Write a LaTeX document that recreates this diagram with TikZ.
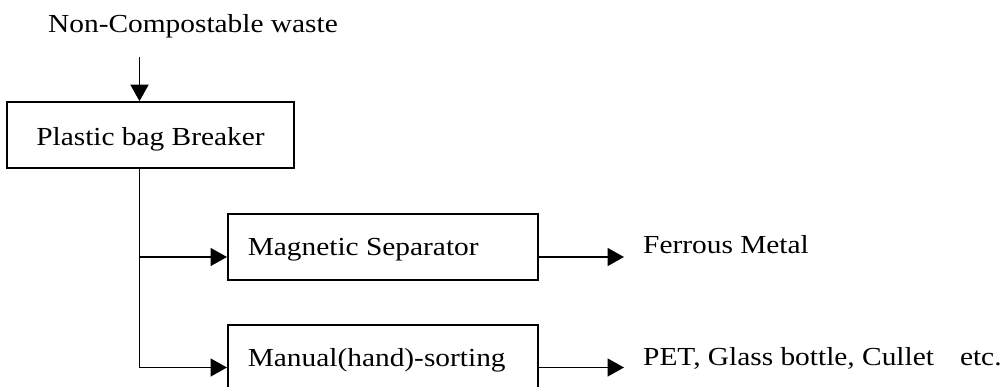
\documentclass[tikz,border=0pt]{standalone}
\usepackage{fontspec}
\setmainfont{Liberation Serif}[FakeStretch=1.13]
\usetikzlibrary{arrows.meta}
\begin{document}
\begin{tikzpicture}[x=1pt,y=-1pt,
  every node/.style={font=\fontsize{26}{30}\selectfont},
  line/.style={line width=1.6pt},
  arr/.style={line, -{Triangle[length=16.5pt,width=18pt]}},
  procbox/.style={draw, line width=1.6pt, minimum height=66pt, inner xsep=20pt, inner ysep=0pt, text height=20pt, text depth=2pt},
  outtext/.style={anchor=base west, inner xsep=19pt, inner ysep=0pt}
]
\useasboundingbox (0,0) rectangle (1004,387);
\node[anchor=base west, inner sep=0pt] (src) at (48,33) {Non-Compostable waste};
\node[draw, line width=1.6pt, minimum width=287pt, minimum height=66pt, inner sep=0pt, text height=24pt, text depth=2pt] (bag) at (150.5,135) {Plastic bag Breaker};
\node[procbox, anchor=north west] (mag) at (227,213) {\makebox[270pt][l]{Magnetic Separator}};
\node[procbox, anchor=north west] (man) at (227,324) {\makebox[270pt][l]{Manual(hand)-sorting}};
\node[outtext] (fe) at (624,254) {Ferrous Metal};
\node[outtext] (pet) at (624,365) {PET, Glass bottle, Cullet\hspace{26pt}etc.};
\coordinate (in) at (139.5,57);
\coordinate (j1) at (139.5,257);
\coordinate (j2) at (139.5,367.5);
\draw[arr] (in) -- (in |- bag.north);
\draw[line] (bag.south -| in) -- (j2);
\draw[arr] (j1) -- (j1 -| mag.west);
\draw[arr] (j2) -- (j2 -| man.west);
\draw[arr] (j1 -| mag.east) -- (j1 -| fe.west);
\draw[arr] (j2 -| man.east) -- (j2 -| pet.west);
\end{tikzpicture}
\end{document}
